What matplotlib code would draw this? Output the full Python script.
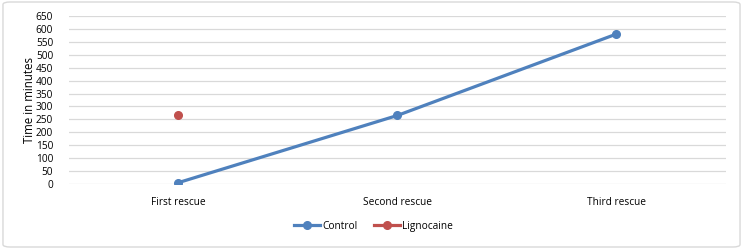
import matplotlib.pyplot as plt
from matplotlib.patches import FancyBboxPatch

categories = ['First rescue', 'Second rescue', 'Third rescue']
control = [5, 265, 580]
lignocaine = [266, None, None]
yticks = list(range(0, 651, 50))

plt.rcParams['font.family'] = ['Open Sans', 'DejaVu Sans']

fig = plt.figure(figsize=(7.43, 2.49), dpi=100)
fig.patches.append(FancyBboxPatch((0.004, 0.008), 0.992, 0.984, boxstyle='round,pad=0,rounding_size=0.01',
                                  transform=fig.transFigure, fill=False, edgecolor='#D9D9D9', linewidth=1))
ax = fig.add_axes([0.0922, 0.261, 0.885, 0.675])

x = list(range(len(categories)))
ax.plot(x, control, color='#4F81BD', linewidth=2.3, marker='o', markersize=5.5, label='Control')
lig_x = [i for i, v in zip(x, lignocaine) if v is not None]
lig_y = [v for v in lignocaine if v is not None]
ax.plot(lig_x, lig_y, color='#C0504D', linewidth=2.3, marker='o', markersize=5.5, label='Lignocaine')

ax.set_xlim(-0.5, 2.5)
ax.set_ylim(0, 650)
ax.set_yticks(yticks)
ax.set_xticks(x)
ax.set_xticklabels(categories)
ax.grid(axis='y', color='#D9D9D9', linewidth=0.9)
ax.set_axisbelow(True)
for s in ax.spines.values():
    s.set_visible(False)
ax.tick_params(axis='both', length=0, labelsize=7.3, colors='#000000')
ax.tick_params(axis='x', pad=9)
ax.tick_params(axis='y', pad=11)
ax.set_ylabel('Time in minutes', fontsize=8.3, labelpad=0)

ax.legend(loc='center', bbox_to_anchor=(0.464, -0.25), ncol=2, frameon=False, fontsize=7.3,
          handlelength=2.6, columnspacing=1.6, handletextpad=0.2)

fig.savefig('out.png', dpi=100)
